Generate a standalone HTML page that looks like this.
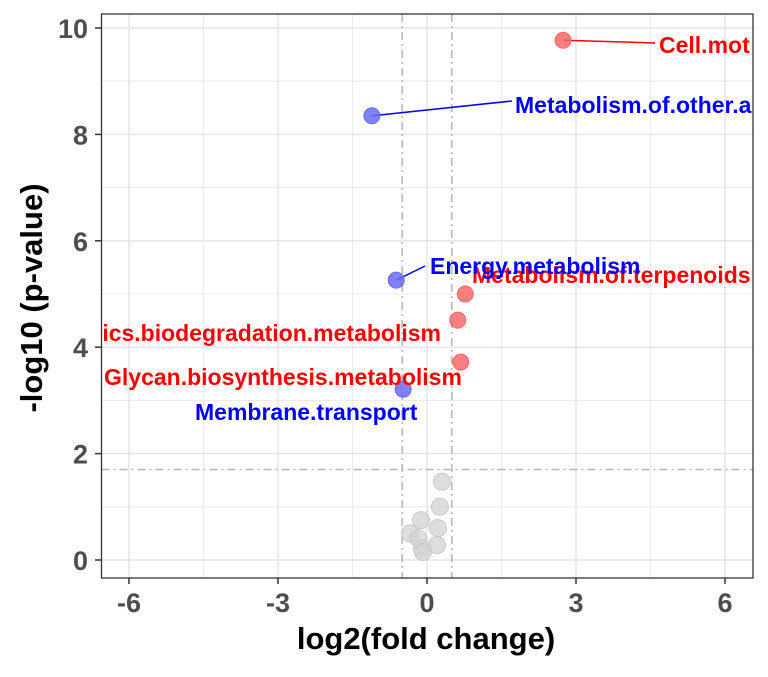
<!DOCTYPE html>
<html><head><meta charset="utf-8"><style>
body{margin:0;background:#fff}
svg text{font-family:"Liberation Sans",Arial,sans-serif;font-weight:bold}
</style></head><body>
<svg width="768" height="672" id="chart">
<defs><clipPath id="pc"><rect x="101.5" y="14" width="651.5" height="564"/></clipPath></defs>
<rect x="101.5" y="14" width="651.5" height="564" fill="#fff"/>
<g id="grid"></g>
<g id="refs"></g>
<g id="pts"></g>
<g id="labs" clip-path="url(#pc)"></g>
<rect x="101.5" y="14" width="651.5" height="564" fill="none" stroke="#333" stroke-width="1.3"/>
<g id="axes"></g>
<text x="426" y="649" text-anchor="middle" font-size="31" fill="#000">log2(fold change)</text>
<text transform="translate(42,298) rotate(-90)" text-anchor="middle" font-size="31" fill="#000">-log10 (p-value)</text>
</svg>
<script>
const xTicks=[-6,-3,0,3,6];
const yTicks=[0,2,4,6,8,10];
const grayX=[0.30,0.26,-0.12,0.22,-0.34,-0.18,0.20,-0.10,-0.08];
const grayY=[1.47,1.0,0.75,0.6,0.5,0.41,0.28,0.22,0.15];
const redNames=["Cell.mot","Metabolism.of.terpenoids","ics.biodegradation.metabolism","Glycan.biosynthesis.metabolism"];
const redX=[2.74,0.77,0.62,0.68];
const redY=[9.77,5.0,4.51,3.72];
const blueNames=["Metabolism.of.other.a","Energy.metabolism","Membrane.transport"];
const blueX=[-1.11,-0.62,-0.48];
const blueY=[8.35,5.26,3.21];
const fcCut=[-0.5,0.5];
const pCut=[1.7];
const X=v=>427+v*49.67, Y=v=>560-v*53.2;
const NS="http://www.w3.org/2000/svg";
function mk(p,t,a){const e=document.createElementNS(NS,t);for(const k in a)e.setAttribute(k,a[k]);document.getElementById(p).appendChild(e);return e;}
for(let v=-7.5;v<=7.5;v+=1.5){const x=X(v);if(x<102||x>752)continue;const g=mk('grid','line',{x1:x,x2:x,y1:14,y2:578,stroke:'#e6e6e6','stroke-width':xTicks.includes(v)?1.5:0.8});

}
for(let v=-1;v<=11;v+=1){const y=Y(v);if(y<14||y>578)continue;const g=mk('grid','line',{x1:101.5,x2:753,y1:y,y2:y,stroke:'#e6e6e6','stroke-width':v%2==0?1.5:0.8});

}
fcCut.forEach(v=>{const l=mk('refs','line',{x1:X(v),x2:X(v),y1:14,y2:578,stroke:'#b5b5b5','stroke-width':1.5,'stroke-dasharray':'8,4,2,4'});

});
pCut.forEach(v=>{const l=mk('refs','line',{x1:101.5,x2:753,y1:Y(v),y2:Y(v),stroke:'#b5b5b5','stroke-width':1.5,'stroke-dasharray':'8,4,2,4'});

});
grayX.forEach((v,i)=>{const c=mk('pts','circle',{cx:X(v),cy:Y(grayY[i]),r:8.5,fill:'#d3d3d3','fill-opacity':0.75,stroke:'#c8c8c8'});

});
const redLab=[[659,53,'start'],[472,283,'start'],[441,341,'end'],[104,385,'start']];
const blueLab=[[515,113,'start'],[430,274,'start'],[195,420,'start']];
const redSeg=[[655,43],null,null,null];
const blueSeg=[[512,101],[425,266],null];
function series(nm,xs,ys,col,fill,lab,seg,name){
xs.forEach((v,i)=>{const cx=X(v),cy=Y(ys[i]);
if(seg[i]){const l=mk('pts','line',{x1:cx,y1:cy,x2:seg[i][0],y2:seg[i][1],stroke:col,'stroke-width':1.5});

}
const c=mk('pts','circle',{cx:cx,cy:cy,r:8,fill:fill,stroke:fill,'fill-opacity':0.85});


const t=mk('labs','text',{x:lab[i][0],y:lab[i][1],'text-anchor':lab[i][2],'font-size':23,fill:col});t.textContent=nm[i];

});}
series(redNames,redX,redY,'#ff0000','#f96a6a',redLab,redSeg,'up');
series(blueNames,blueX,blueY,'#0000ff','#6b6bf5',blueLab,blueSeg,'down');
xTicks.forEach(v=>{const l=mk('axes','line',{x1:X(v),x2:X(v),y1:578,y2:584,stroke:'#333','stroke-width':1.5});


const t=mk('axes','text',{x:X(v),y:612,'text-anchor':'middle','font-size':27,fill:'#4d4d4d'});t.textContent=v;

});
yTicks.forEach(v=>{const l=mk('axes','line',{x1:95,x2:101.5,y1:Y(v),y2:Y(v),stroke:'#333','stroke-width':1.5});


const t=mk('axes','text',{x:88,y:Y(v)+10,'text-anchor':'end','font-size':27,fill:'#4d4d4d'});t.textContent=v;

});
</script>
</body></html>
